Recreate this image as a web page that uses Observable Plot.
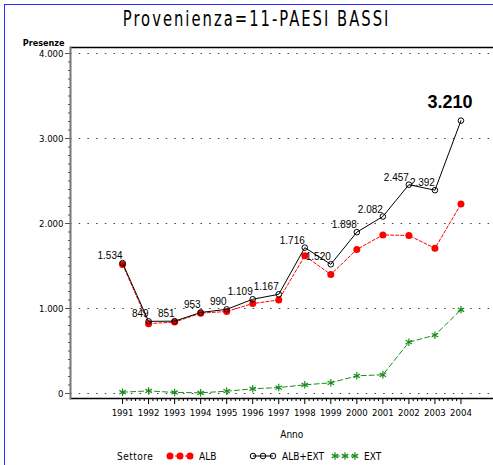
<!DOCTYPE html>
<html><head><meta charset="utf-8">
<script src="https://cdn.jsdelivr.net/npm/d3@7"></script>
<script src="https://cdn.jsdelivr.net/npm/@observablehq/plot@0.6"></script>
<style>
body{margin:0;background:#fff;}
#wrap{position:relative;width:493px;height:465px;overflow:hidden;font-family:"DejaVu Sans Condensed","DejaVu Sans",sans-serif;}
#border{position:absolute;left:4px;top:4px;right:-10px;bottom:-10px;border-top:1px solid #2b2bff;border-left:1px solid #2b2bff;}
#title{position:absolute;left:20px;right:0;top:7px;text-align:center;line-height:24px;color:#000;}
#title span{display:inline-block;font-size:21px;letter-spacing:2.6px;transform:scaleX(0.78);transform-origin:center;}
#chart{position:absolute;left:0;top:36px;}
#legend{position:absolute;left:0;top:446px;}
</style>
</head><body>
<div id="wrap">
<div id="border"></div>
<div id="title"><span>Provenienza=11-PAESI BASSI</span></div>
<div id="chart"></div>
<div id="legend"></div>
</div>
<script>
const years = [1991,1992,1993,1994,1995,1996,1997,1998,1999,2000,2001,2002,2003,2004];
const albExt = [1534,849,851,953,990,1109,1167,1716,1520,1898,2082,2457,2392,3210];
const alb = [1519,822,840,945,965,1058,1100,1620,1400,1695,1865,1860,1708,2228];
const ext = [15,31,12,8,27,55,70,102,126,208,220,604,686,985];
const series = ["ALB","ALB+EXT","EXT"];
const colors = ["#ff0000","#000000","#1a8c1a"];
const yTicks = [0,1000,2000,3000,4000];
const legendTitle = "Settore";
const xLabel = "Anno";
const yLabel = "Presenze";

const fmt = d3.formatLocale({decimal:",",thousands:".",grouping:[3],currency:["",""]}).format(",d");
const data = years.map((y,i)=>({year:y, alb:alb[i], tot:albExt[i], ext:ext[i]}));
const minorY = d3.range(0, 4001, 100).filter(v => v % 1000 !== 0);
const minorX = d3.range(years[0], years[years.length-1] + 0.001, 1/6).filter(v => Math.abs(v - Math.round(v)) > 0.01);
const narrow = '"DejaVu Sans Condensed","DejaVu Sans",sans-serif';
const labFont = '"Liberation Sans",Arial,sans-serif';

const chart = Plot.plot({
  width: 493, height: 410,
  marginLeft: 70, marginRight: 0, marginTop: 11, marginBottom: 48,
  x: {domain: [1989, 2005.25]},
  y: {domain: [0, 4000], insetTop: 6, insetBottom: 5},
  style: {fontFamily: narrow, fontSize: "10px", background: "transparent"},
  marks: [
    Plot.gridY(yTicks, {stroke: "#444", strokeOpacity: 1, strokeDasharray: "1.5,7.2", strokeWidth: 1.2}),
    Plot.frame({anchor: "top", stroke: "#000", strokeWidth: 1.3}),
    Plot.frame({anchor: "bottom", stroke: "#000", strokeWidth: 1.3}),
    Plot.frame({anchor: "left", stroke: "#777", strokeWidth: 2}),
    Plot.axisY(yTicks, {tickSize: 5, tickPadding: 2, tickFormat: fmt, label: null, stroke: "#555", fontSize: 9.5}),
    Plot.axisY(minorY, {tickSize: 2, tickFormat: () => "", label: null, stroke: "#555"}),
    Plot.axisX(years, {tickSize: 6, tickPadding: 5, tickFormat: d => String(d), label: null, stroke: "#000", fontSize: 9.5}),
    Plot.axisX(minorX, {tickSize: 3, tickFormat: () => "", label: null, stroke: "#000"}),
    Plot.text([{x: (years[0] + years[years.length-1]) / 2, t: xLabel}], {x: "x", text: "t", frameAnchor: "bottom", dy: 39, fontSize: 10}),
    Plot.text([yLabel], {frameAnchor: "top-left", textAnchor: "end", lineAnchor: "bottom", dx: -6, dy: -2, fontSize: 9, fontWeight: "bold"}),
    Plot.line(data, {x: "year", y: "ext", stroke: colors[2], strokeDasharray: "5,3", strokeWidth: 1}),
    Plot.dot(data, {x: "year", y: "ext", symbol: "asterisk", stroke: colors[2], r: 3.5, strokeWidth: 1.2}),
    Plot.line(data, {x: "year", y: "alb", stroke: colors[0], strokeDasharray: "3,2", strokeWidth: 1}),
    Plot.dot(data, {x: "year", y: "alb", fill: colors[0], r: 3.5}),
    Plot.line(data, {x: "year", y: "tot", stroke: colors[1], strokeWidth: 1}),
    Plot.dot(data, {x: "year", y: "tot", stroke: colors[1], fill: "none", r: 2.8, strokeWidth: 1}),
    Plot.text(data.slice(0, -1), {x: "year", y: "tot", text: d => fmt(d.tot), textAnchor: "end", lineAnchor: "bottom", dy: -4, fontFamily: labFont, fontSize: 10}),
    Plot.text(data.slice(-1), {x: "year", y: "tot", text: d => fmt(d.tot), textAnchor: "middle", lineAnchor: "bottom", dx: -11, dy: -13, fontFamily: labFont, fontSize: 18, fontWeight: "bold", letterSpacing: "-0.5px"})
  ]
});
document.getElementById("chart").appendChild(chart);

// legend
const lg = d3.select("#legend").append("svg").attr("width", 493).attr("height", 19)
  .style("font-family", narrow).style("font-size", "10px");
lg.append("text").attr("x", 117).attr("y", 14).attr("letter-spacing", "0.5px").text(legendTitle);
const lx = [170, 253, 335];
series.forEach((s, i) => {
  const g = lg.append("g").attr("transform", `translate(${lx[i]},10)`);
  g.append("line").attr("x1", 0).attr("x2", 20).attr("stroke", colors[i]).attr("stroke-width", 1)
    .attr("stroke-dasharray", i === 1 ? null : (i === 0 ? "3,2" : "5,3"));
  [0, 10, 20].forEach(dx => {
    if (i === 0) g.append("circle").attr("cx", dx).attr("r", 3.5).attr("fill", colors[i]);
    else if (i === 1) g.append("circle").attr("cx", dx).attr("r", 2.8).attr("fill", "none").attr("stroke", colors[i]);
    else g.append("path").attr("transform", `translate(${dx},0)`).attr("d", d3.symbol(d3.symbolAsterisk, Math.PI * 3.5 * 3.5)()).attr("stroke", colors[i]).attr("stroke-width", 1.2).attr("fill", "none");
  });
  g.append("text").attr("x", 29).attr("y", 4).text(s);
});
</script>
</body></html>
